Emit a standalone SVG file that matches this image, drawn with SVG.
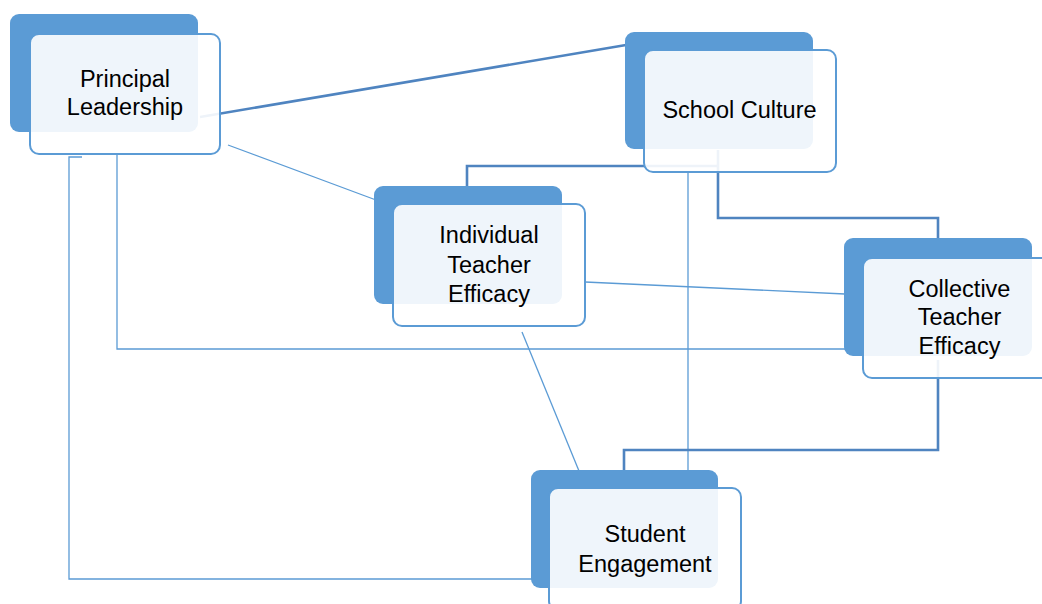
<svg xmlns="http://www.w3.org/2000/svg" width="1042" height="604" viewBox="0 0 1042 604">
<style>
.bg{fill:#ffffff}
.back{fill:#5b9bd5}
.front{fill:#ffffff;fill-opacity:0.9;stroke:#5b9bd5;stroke-width:2}
.lbl{font-family:"Liberation Sans",Arial,sans-serif;font-size:23.5px;fill:#000000;text-anchor:middle}
.thin{fill:none;stroke:#5b9bd5;stroke-width:1.3}
.thick{fill:none;stroke:#4f84c0;stroke-width:2.6}
</style>
<rect class="bg" x="0" y="0" width="1042" height="604"/>
<g id="connectors">
<line class="thick" x1="200" y1="117" x2="626" y2="45"/>
<line class="thin" x1="228" y1="145" x2="376" y2="200"/>
<polyline class="thick" points="467,187 467,166 718,166"/>
<polyline class="thick" points="718,150 718,218 938,218 938,238"/>
<line class="thin" x1="585" y1="282" x2="845" y2="294"/>
<polyline class="thin" points="117,155 117,349 845,349"/>
<polyline class="thin" points="82,157 69,157 69,579 532,579"/>
<line class="thin" x1="522" y1="332" x2="579" y2="471"/>
<line class="thin" x1="688" y1="172" x2="688" y2="471"/>
<polyline class="thick" points="938,360 938,450 624,450 624,471"/>
</g>
<g id="principal-leadership">
<rect class="back" x="10" y="14" width="188" height="118" rx="9"/>
<rect class="front" x="30" y="34" width="190" height="120" rx="9"/>
<text class="lbl" x="125" y="87">Principal</text>
<text class="lbl" x="125" y="115">Leadership</text>
</g>
<g id="school-culture">
<rect class="back" x="625" y="32" width="188" height="117" rx="9"/>
<rect class="front" x="644" y="50" width="192" height="122" rx="9"/>
<text class="lbl" x="739.5" y="118">School Culture</text>
</g>
<g id="individual-teacher-efficacy">
<rect class="back" x="374" y="186" width="188" height="118" rx="9"/>
<rect class="front" x="393" y="204" width="192" height="122" rx="9"/>
<text class="lbl" x="489" y="243">Individual</text>
<text class="lbl" x="489" y="273">Teacher</text>
<text class="lbl" x="489" y="302">Efficacy</text>
</g>
<g id="collective-teacher-efficacy">
<rect class="back" x="844" y="238" width="188" height="118" rx="9"/>
<rect class="front" x="863" y="258" width="192" height="120" rx="9"/>
<text class="lbl" x="959.5" y="297">Collective</text>
<text class="lbl" x="959.5" y="325">Teacher</text>
<text class="lbl" x="959.5" y="354">Efficacy</text>
</g>
<g id="student-engagement">
<rect class="back" x="531" y="470" width="187" height="118" rx="9"/>
<rect class="front" x="549" y="488" width="192" height="122" rx="9"/>
<text class="lbl" x="645" y="542">Student</text>
<text class="lbl" x="645" y="572">Engagement</text>
</g>
</svg>
